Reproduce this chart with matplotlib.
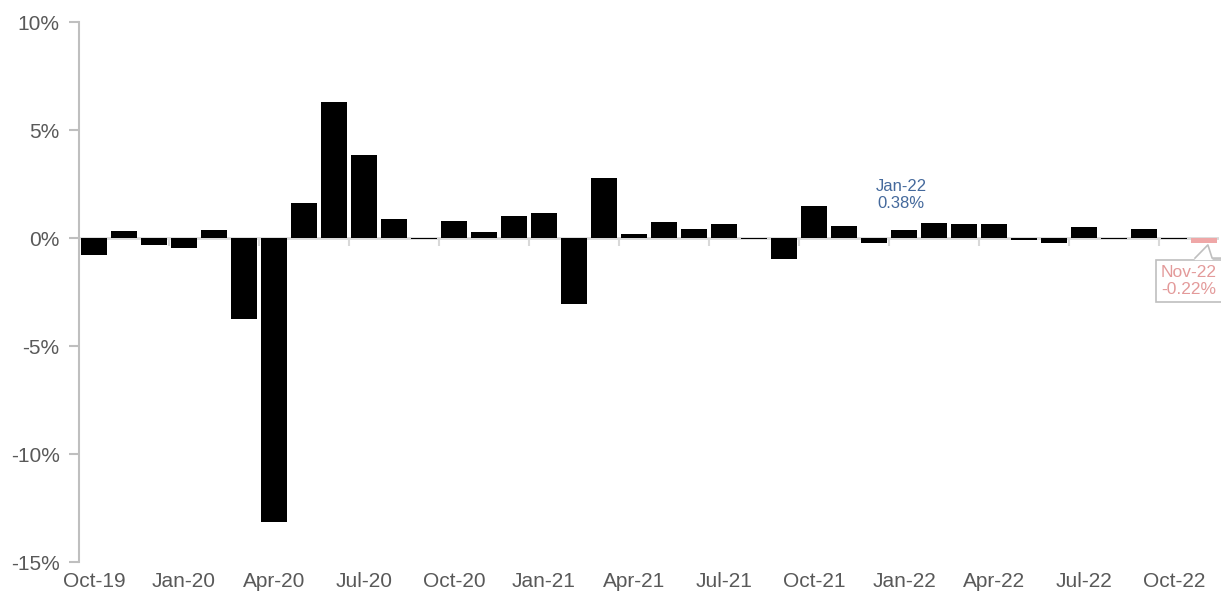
import matplotlib
matplotlib.use('Agg')
from matplotlib import pyplot as plt
import matplotlib.transforms as mtransforms
import numpy as np

plt.rcParams['font.family'] = ['Liberation Sans', 'DejaVu Sans']

months = ['Oct-19', 'Nov-19', 'Dec-19',
          'Jan-20', 'Feb-20', 'Mar-20', 'Apr-20', 'May-20', 'Jun-20',
          'Jul-20', 'Aug-20', 'Sep-20', 'Oct-20', 'Nov-20', 'Dec-20',
          'Jan-21', 'Feb-21', 'Mar-21', 'Apr-21', 'May-21', 'Jun-21',
          'Jul-21', 'Aug-21', 'Sep-21', 'Oct-21', 'Nov-21', 'Dec-21',
          'Jan-22', 'Feb-22', 'Mar-22', 'Apr-22', 'May-22', 'Jun-22',
          'Jul-22', 'Aug-22', 'Sep-22', 'Oct-22', 'Nov-22']
change = [-0.78, 0.31, -0.32,
          -0.46, 0.38, -3.77, -13.17, 1.62, 6.28,
          3.84, 0.90, -0.04, 0.79, 0.29, 1.03,
          1.14, -3.05, 2.76, 0.17, 0.75, 0.42,
          0.66, -0.03, -0.99, 1.50, 0.57, -0.23,
          0.38, 0.70, 0.66, 0.66, -0.08, -0.22,
          0.52, -0.05, 0.40, -0.05, -0.22]
tick_labels = months[::3]
yticks = [10, 5, 0, -5, -10, -15]

grey_axis = '#BFBFBF'
text_col = '#595959'
blue_note = '#44699C'
pink = '#EFA7A7'
pink_text = '#E39A9A'

x = np.arange(len(months))
colors = ['black'] * (len(months) - 1) + [pink]

fig = plt.figure(figsize=(12.21, 5.94), dpi=100)
ax = fig.add_axes([79 / 1221, 32 / 594, 1140 / 1221, 540 / 594])

ax.axhline(0, color='#D9D9D9', lw=2, zorder=1)
ax.bar(x, change, width=0.86, color=colors, zorder=2)

ax.set_xlim(-0.5, len(months) - 0.5)
ax.set_ylim(-15, 10)

# y axis
for s in ['top', 'right']:
    ax.spines[s].set_visible(False)
ax.spines['left'].set_color(grey_axis)
ax.spines['left'].set_linewidth(1.5)
ax.set_yticks(yticks)
ax.set_yticklabels([f'{v}%' for v in yticks])
ax.tick_params(axis='y', direction='out', length=7, width=1.5, color=grey_axis,
               labelsize=15, labelcolor=text_col, pad=7)

# x axis: ticks on the zero line, labels at the bottom
ax.spines['bottom'].set_position(('data', 0))
ax.spines['bottom'].set_visible(False)
ax.set_xticks(np.arange(-0.5, len(months), 3)[1:])
ax.set_xticklabels([])
ax.tick_params(axis='x', direction='out', length=6, width=1.5, color='#D9D9D9')
trans = mtransforms.blended_transform_factory(ax.transData, ax.transAxes)
for i, lab in zip(x[::3], tick_labels):
    ax.text(i, -0.037, lab, transform=trans, ha='center', va='center',
            fontsize=15, color=text_col)

# Jan-22 note
j = months.index('Jan-22')
ax.text(j - 0.1, 2.0, f'{months[j]}\n{change[j]:.2f}%', ha='center', va='center',
        fontsize=12, color=blue_note, linespacing=1.2)

# Nov-22 callout
n = len(months) - 1
ax.text(n - 0.5, -2.0, f'{months[n]}\n{change[n]:.2f}%', ha='center', va='center',
        fontsize=12.5, color=pink_text, linespacing=1.15, clip_on=False,
        bbox=dict(boxstyle='square,pad=0.3', fc='white', ec=grey_axis, lw=1.2),
        zorder=3)
box_top = -0.93
ax.fill([n - 0.3, n + 0.13, n + 0.27], [box_top - 0.06, -0.32, box_top - 0.06],
        color='white', zorder=4, clip_on=False)
ax.plot([n - 0.3, n + 0.13, n + 0.27, n + 0.7], [box_top, -0.32, box_top, box_top],
        color=grey_axis, lw=1.2, zorder=5, clip_on=False)

fig.savefig('out.png', dpi=100)
